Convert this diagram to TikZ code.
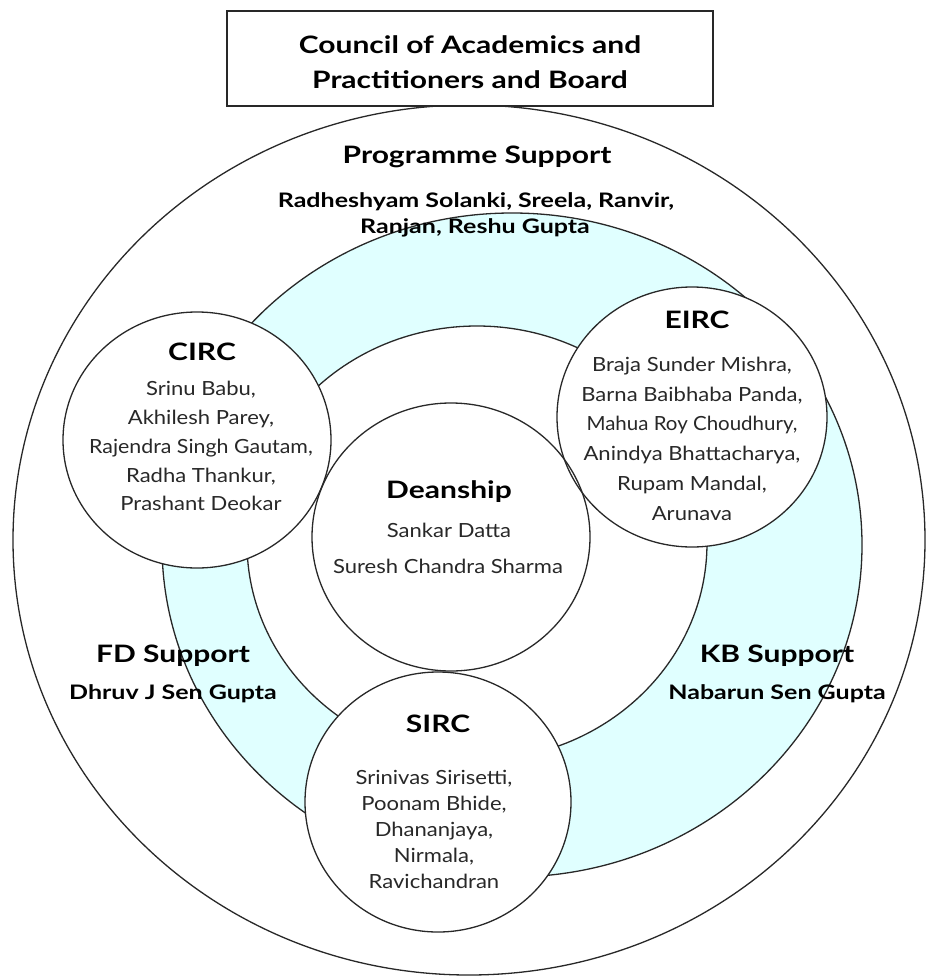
\documentclass[tikz,border=0pt]{standalone}
\usepackage{fontspec}
\setmainfont{Lato}
\newfontfamily\bdfont{Lato}[FakeStretch=1.25]
\newfontfamily\nmfont{Lato}[FakeStretch=1.13]
\definecolor{ringblue}{RGB}{224,255,255}
\definecolor{ink}{RGB}{40,40,40}
\begin{document}
\begin{tikzpicture}[x=1pt,y=-1pt,
  ln/.style={draw=ink, line width=1.3pt},
  titletxt/.style={font=\bdfont\fontsize{24}{30}\selectfont\bfseries, anchor=base},
  headtxt/.style={font=\bdfont\fontsize{24}{30}\selectfont\bfseries, anchor=base},
  subtxt/.style={font=\bdfont\fontsize{20}{24}\selectfont\bfseries, anchor=base},
  nametxt/.style={font=\nmfont\fontsize{19.5}{24}\selectfont, anchor=base, text=ink},
  inner sep=0pt, outer sep=0pt]
\useasboundingbox (0,0) rectangle (928,977);

% rings
\draw[ln, fill=white] (469,540) ellipse [x radius=456pt, y radius=435pt];
\draw[ln, fill=ringblue] (512,545) ellipse [x radius=350pt, y radius=332pt];
\draw[ln, fill=white] (477,543) ellipse [x radius=230pt, y radius=217pt];

% unit circles: fill first, then outlines
\fill[white] (197,440) ellipse [x radius=134pt, y radius=128pt];
\fill[white] (692,417) ellipse [x radius=135pt, y radius=130pt];
\fill[white] (438,802) ellipse [x radius=133pt, y radius=130pt];
\fill[white] (451,537) ellipse [x radius=139pt, y radius=134pt];
\draw[ln] (197,440) ellipse [x radius=134pt, y radius=128pt];
\draw[ln] (692,417) ellipse [x radius=135pt, y radius=130pt];
\draw[ln] (438,802) ellipse [x radius=133pt, y radius=130pt];
\draw[ln] (451,537) ellipse [x radius=139pt, y radius=134pt];

% council box
\node[ln, fill=white, minimum width=486pt, minimum height=95pt] (council) at (470,58.5) {};
\node[titletxt] (council1) at (470,53) {Council of Academics and};
\node[titletxt] (council2) at (470,88) {Practitioners and Board};

% programme support
\node[headtxt] (prog) at (477,163) {Programme Support};
\node[subtxt] (prog1) at (476,207) {Radheshyam Solanki, Sreela, Ranvir,};
\node[subtxt] (prog2) at (475,233) {Ranjan, Reshu Gupta};

% CIRC
\node[headtxt] (circ) at (202,360) {CIRC};
\node[nametxt] (circ1) at (201,395) {Srinu Babu,};
\node[nametxt] (circ2) at (201,424) {Akhilesh Parey,};
\node[nametxt] (circ3) at (201,453) {\scalebox{0.97}[1]{Rajendra Singh Gautam,}};
\node[nametxt] (circ4) at (201,482) {Radha Thankur,};
\node[nametxt] (circ5) at (201,510) {Prashant Deokar};

% EIRC
\node[headtxt] (eirc) at (697,328) {EIRC};
\node[nametxt] (eirc1) at (692,371) {Braja Sunder Mishra,};
\node[nametxt] (eirc2) at (692,401) {Barna Baibhaba Panda,};
\node[nametxt] (eirc3) at (692,430) {\scalebox{0.93}[1]{Mahua Roy Choudhury,}};
\node[nametxt] (eirc4) at (692,460) {Anindya Bhattacharya,};
\node[nametxt] (eirc5) at (692,490) {Rupam Mandal,};
\node[nametxt] (eirc6) at (692,520) {Arunava};

% Deanship
\node[headtxt] (dean) at (449,498) {Deanship};
\node[nametxt] (dean1) at (449,537) {Sankar Datta};
\node[nametxt] (dean2) at (448,573) {Suresh Chandra Sharma};

% SIRC
\node[headtxt] (sirc) at (438,732) {SIRC};
\node[nametxt] (sirc1) at (434,784) {Srinivas Sirisetti,};
\node[nametxt] (sirc2) at (434,810) {Poonam Bhide,};
\node[nametxt] (sirc3) at (434,836) {Dhananjaya,};
\node[nametxt] (sirc4) at (434,862) {Nirmala,};
\node[nametxt] (sirc5) at (434,888) {Ravichandran};

% FD / KB support
\node[headtxt] (fd) at (173,662) {FD Support};
\node[subtxt] (fd1) at (173,699) {Dhruv J Sen Gupta};
\node[headtxt] (kb) at (777,662) {KB Support};
\node[subtxt] (kb1) at (777,699) {Nabarun Sen Gupta};
\end{tikzpicture}
\end{document}
